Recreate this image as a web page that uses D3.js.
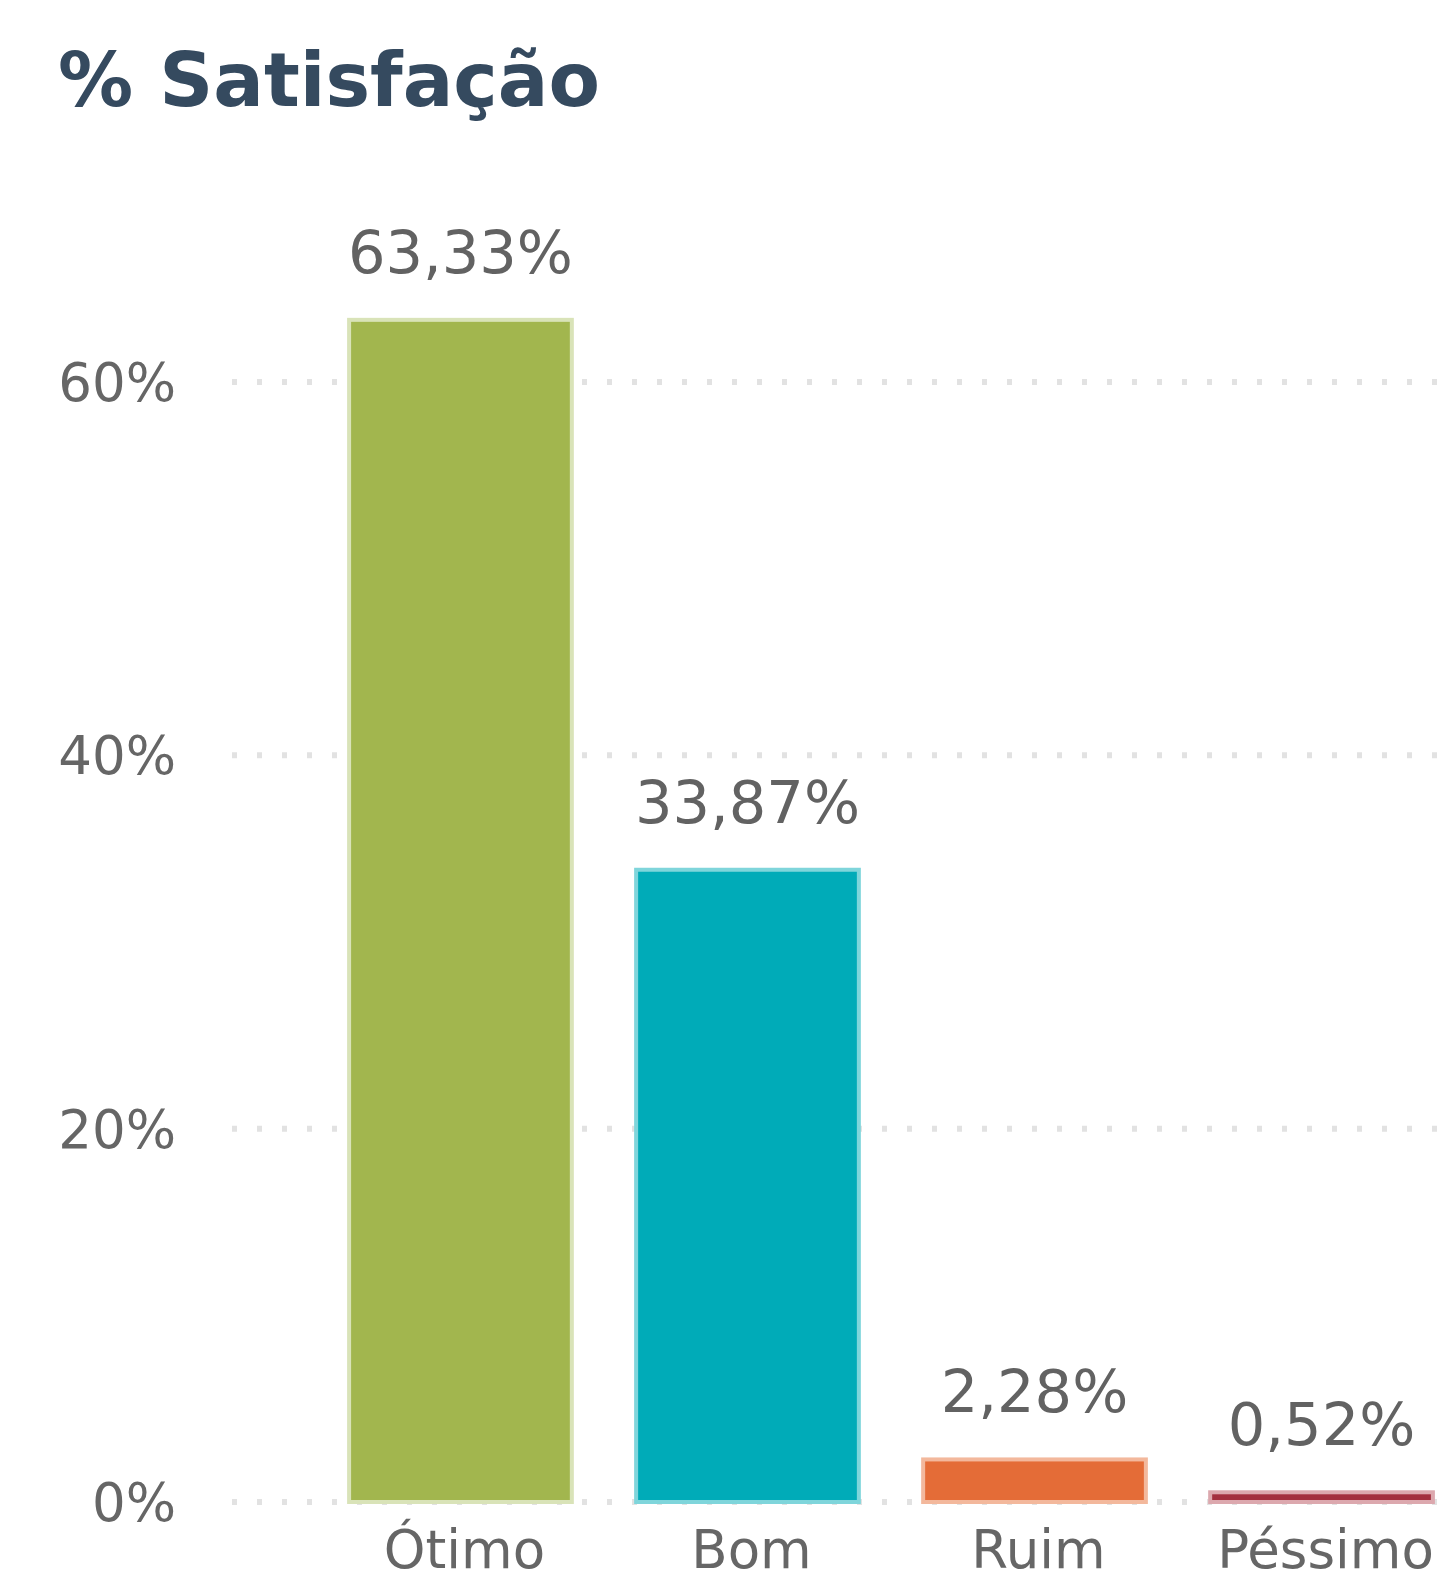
<!DOCTYPE html>
<html>
<head>
<meta charset="utf-8">
<script src="https://cdn.jsdelivr.net/npm/d3@7"></script>
<style>
  body { margin: 0; background: #fff; }
  svg { display: block; }
</style>
</head>
<body>
<div id="chart"></div>
<script>
// satisfaction survey data
const categories = ["Ótimo", "Bom", "Ruim", "Péssimo"];
const values = [63.33, 33.87, 2.28, 0.52];
const barColors = ["#a2b64e", "#00abb8", "#e46c37", "#a3303f"];
const edgeColors = ["#d9e3b8", "#7fd5db", "#f3b89c", "#dca8ae"];
const yTicks = [0, 20, 40, 60];

const width = 1450;
const height = 1571;

const svg = d3.select("#chart").append("svg")
    .attr("width", width)
    .attr("height", height);

// y scale: 0% at 1502, 20 points per ~373px
const y = d3.scaleLinear().domain([0, 60]).range([1502, 382]);

// band scale runs past the right edge, the chart is cropped there
const x = d3.scaleBand()
    .domain(categories)
    .range([232, 1550])
    .paddingInner(0.224)
    .paddingOuter(0.408);

// title
svg.append("text")
    .attr("x", 58)
    .attr("y", 106)
    .attr("font-family", "DejaVu Sans")
    .attr("font-weight", "bold")
    .attr("font-size", 75)
    .attr("fill", "#354a5f")
    .text("% Satisfação");

// dotted gridlines
svg.append("g")
    .selectAll("line")
    .data(yTicks)
    .join("line")
    .attr("x1", 232)
    .attr("x2", width)
    .attr("y1", d => y(d))
    .attr("y2", d => y(d))
    .attr("stroke", "#e2e2e2")
    .attr("stroke-width", 6)
    .attr("stroke-dasharray", "5,20");

// y tick labels
svg.append("g")
    .selectAll("text")
    .data(yTicks)
    .join("text")
    .attr("x", 176)
    .attr("y", d => y(d))
    .attr("dy", "0.36em")
    .attr("text-anchor", "end")
    .attr("font-family", "DejaVu Sans")
    .attr("font-size", 53)
    .attr("fill", "#666")
    .text(d => d + "%");

// bars
svg.append("g")
    .selectAll("rect")
    .data(values)
    .join("rect")
    .attr("x", (d, i) => x(categories[i]))
    .attr("y", d => y(d))
    .attr("width", x.bandwidth())
    .attr("height", d => y(0) - y(d))
    .attr("fill", (d, i) => barColors[i])
    .attr("stroke", (d, i) => edgeColors[i])
    .attr("stroke-width", 4);

// data labels
svg.append("g")
    .selectAll("text")
    .data(values)
    .join("text")
    .attr("x", (d, i) => x(categories[i]) + x.bandwidth() / 2)
    .attr("y", d => y(d) - 47)
    .attr("text-anchor", "middle")
    .attr("font-family", "DejaVu Sans")
    .attr("font-size", 59)
    .attr("fill", "#626262")
    .text(d => d.toFixed(2).replace(".", ",") + "%");

// category labels (cut by the bottom edge, as in the source)
svg.append("g")
    .selectAll("text")
    .data(categories)
    .join("text")
    .attr("x", d => x(d) + x.bandwidth() / 2 + 4)
    .attr("y", 1568)
    .attr("text-anchor", "middle")
    .attr("font-family", "DejaVu Sans")
    .attr("font-size", 53)
    .attr("fill", "#666")
    .text(d => d);
</script>
</body>
</html>
